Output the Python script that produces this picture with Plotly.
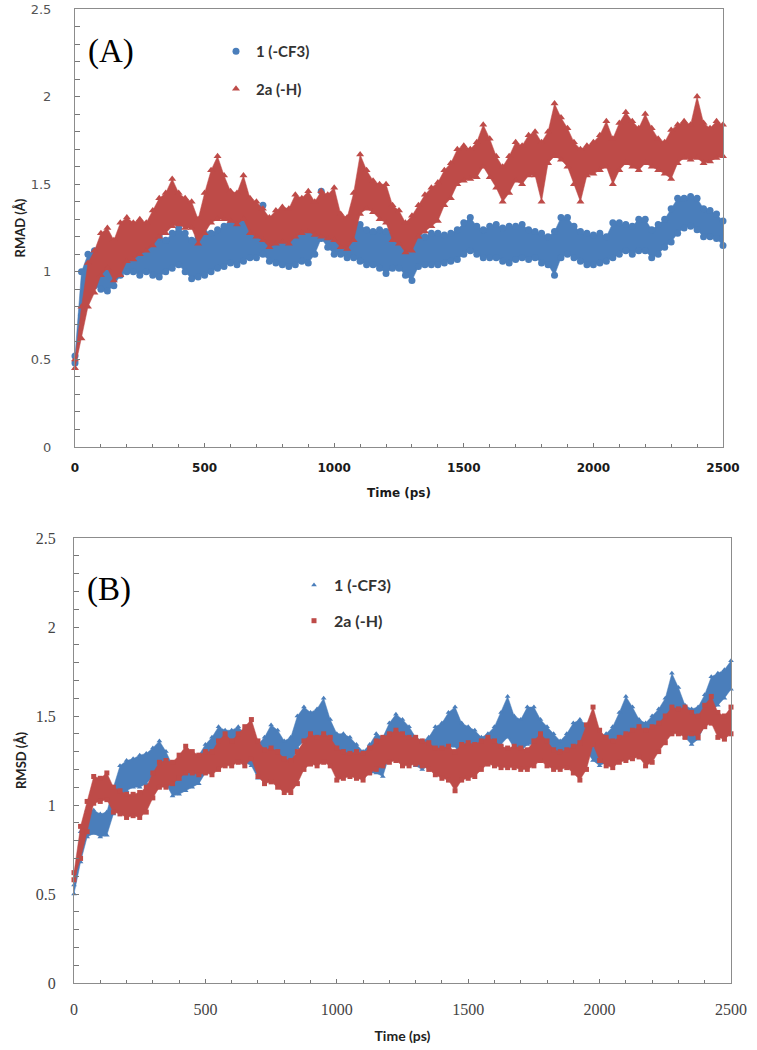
import plotly.graph_objects as go

# ---------------- data (envelope of each noisy trace every 25 ps) -------------
time_ps = list(range(0, 2501, 25))

# Panel A  (RMAD)
a_cf3_hi = [0.52,1.00,1.10,1.12,1.06,1.08,1.08,1.18,1.26,1.20,1.22,1.18,1.23,1.20,1.18,1.22,1.25,1.22,1.18,1.20,
            1.22,1.22,1.24,1.26,1.30,1.28,1.30,1.28,1.32,1.38,1.25,1.24,1.22,1.23,1.24,1.26,1.27,1.34,1.46,1.36,
            1.31,1.30,1.28,1.30,1.27,1.24,1.23,1.24,1.23,1.22,1.21,1.20,1.18,1.21,1.20,1.22,1.22,1.21,1.22,1.24,
            1.28,1.31,1.26,1.24,1.26,1.27,1.25,1.26,1.26,1.27,1.24,1.23,1.22,1.20,1.23,1.31,1.31,1.26,1.23,1.22,
            1.21,1.22,1.20,1.28,1.28,1.27,1.26,1.30,1.30,1.24,1.27,1.30,1.36,1.42,1.42,1.43,1.42,1.36,1.35,1.33,1.29]
a_cf3_lo = [0.48,0.75,0.92,0.92,0.90,0.89,0.92,0.98,1.00,1.00,0.98,1.00,0.98,0.97,1.00,1.02,1.04,1.00,0.96,0.97,
            0.98,1.00,1.02,1.03,1.05,1.04,1.06,1.08,1.08,1.10,1.06,1.05,1.04,1.03,1.04,1.06,1.05,1.10,1.19,1.14,
            1.10,1.10,1.08,1.08,1.06,1.04,1.04,1.02,0.99,1.02,1.02,0.98,0.95,1.03,1.04,1.04,1.04,1.05,1.06,1.07,
            1.10,1.12,1.10,1.08,1.08,1.08,1.06,1.05,1.07,1.08,1.07,1.08,1.05,1.04,0.98,1.08,1.10,1.08,1.06,1.04,
            1.04,1.05,1.06,1.08,1.10,1.12,1.10,1.12,1.12,1.08,1.10,1.14,1.17,1.22,1.25,1.26,1.24,1.20,1.20,1.19,1.15]
a_h_hi = [0.50,0.80,1.05,1.12,1.22,1.25,1.18,1.28,1.31,1.28,1.30,1.28,1.35,1.42,1.45,1.53,1.45,1.42,1.40,1.30,
          1.45,1.58,1.66,1.55,1.46,1.45,1.55,1.42,1.40,1.36,1.31,1.35,1.37,1.36,1.44,1.42,1.46,1.40,1.46,1.44,
          1.48,1.33,1.31,1.45,1.67,1.58,1.52,1.50,1.50,1.38,1.35,1.28,1.32,1.38,1.44,1.48,1.51,1.58,1.62,1.70,
          1.72,1.70,1.74,1.84,1.76,1.66,1.60,1.66,1.74,1.72,1.78,1.80,1.74,1.80,1.96,1.88,1.82,1.74,1.70,1.72,
          1.74,1.78,1.86,1.76,1.85,1.91,1.86,1.82,1.90,1.82,1.76,1.74,1.81,1.84,1.86,1.84,2.00,1.85,1.82,1.86,1.84]
a_h_lo = [0.45,0.62,0.80,0.88,0.98,1.02,0.95,0.98,1.06,1.07,1.10,1.12,1.15,1.20,1.22,1.26,1.27,1.25,1.25,1.16,
          1.22,1.28,1.30,1.30,1.29,1.27,1.30,1.22,1.20,1.18,1.14,1.16,1.17,1.16,1.20,1.22,1.23,1.21,1.20,1.19,
          1.18,1.14,1.13,1.18,1.33,1.36,1.34,1.30,1.28,1.18,1.16,1.11,1.12,1.20,1.23,1.26,1.29,1.38,1.42,1.50,
          1.52,1.53,1.54,1.60,1.54,1.48,1.40,1.45,1.52,1.50,1.55,1.55,1.40,1.62,1.66,1.64,1.60,1.50,1.40,1.55,
          1.56,1.58,1.60,1.50,1.58,1.62,1.60,1.58,1.62,1.60,1.58,1.56,1.53,1.62,1.65,1.64,1.65,1.62,1.63,1.65,1.66]

# Panel B  (RMSD)
b_cf3_hi = [0.55,0.85,0.97,0.97,0.95,0.96,1.10,1.22,1.25,1.26,1.28,1.29,1.32,1.36,1.30,1.22,1.20,1.22,1.24,1.28,
            1.34,1.38,1.44,1.42,1.42,1.44,1.40,1.38,1.34,1.38,1.45,1.42,1.36,1.38,1.50,1.55,1.52,1.54,1.60,1.48,
            1.40,1.40,1.38,1.34,1.30,1.34,1.40,1.38,1.46,1.51,1.48,1.44,1.38,1.36,1.38,1.44,1.46,1.52,1.55,1.46,
            1.44,1.42,1.38,1.40,1.44,1.52,1.61,1.50,1.48,1.55,1.55,1.48,1.44,1.40,1.36,1.40,1.46,1.48,1.45,1.40,
            1.36,1.40,1.44,1.52,1.61,1.55,1.48,1.46,1.50,1.54,1.60,1.74,1.66,1.56,1.54,1.55,1.62,1.72,1.74,1.76,1.81]
b_cf3_lo = [0.50,0.68,0.82,0.84,0.82,0.83,0.95,1.05,1.08,1.10,1.10,1.12,1.16,1.18,1.12,1.05,1.06,1.08,1.10,1.12,
            1.18,1.22,1.25,1.24,1.24,1.26,1.24,1.22,1.15,1.18,1.28,1.28,1.20,1.22,1.32,1.36,1.32,1.34,1.40,1.30,
            1.22,1.22,1.22,1.18,1.16,1.18,1.18,1.16,1.28,1.31,1.29,1.25,1.22,1.20,1.22,1.26,1.27,1.32,1.33,1.25,
            1.24,1.24,1.22,1.24,1.26,1.34,1.38,1.32,1.30,1.34,1.34,1.28,1.26,1.26,1.26,1.28,1.32,1.33,1.30,1.25,
            1.22,1.24,1.27,1.34,1.40,1.36,1.33,1.32,1.32,1.33,1.40,1.55,1.48,1.38,1.34,1.37,1.45,1.53,1.56,1.60,1.65]
b_h_hi = [0.62,0.88,1.02,1.16,1.15,1.18,1.10,1.08,1.06,1.06,1.07,1.10,1.18,1.24,1.25,1.24,1.28,1.33,1.30,1.28,
          1.30,1.30,1.36,1.40,1.36,1.40,1.44,1.48,1.36,1.31,1.32,1.30,1.26,1.25,1.30,1.36,1.40,1.38,1.40,1.38,
          1.32,1.30,1.29,1.30,1.29,1.32,1.36,1.38,1.40,1.42,1.40,1.38,1.38,1.36,1.35,1.32,1.32,1.33,1.30,1.34,
          1.35,1.34,1.36,1.38,1.36,1.33,1.32,1.33,1.32,1.31,1.36,1.40,1.36,1.31,1.30,1.31,1.33,1.35,1.45,1.55,
          1.42,1.38,1.36,1.38,1.40,1.42,1.44,1.42,1.44,1.46,1.50,1.55,1.54,1.55,1.52,1.50,1.56,1.61,1.52,1.50,1.55]
b_h_lo = [0.58,0.70,0.85,1.01,1.02,1.03,0.96,0.95,0.93,0.94,0.93,0.96,1.04,1.10,1.10,1.12,1.15,1.18,1.18,1.17,
          1.18,1.17,1.20,1.22,1.22,1.24,1.22,1.26,1.16,1.12,1.13,1.10,1.07,1.07,1.12,1.20,1.23,1.22,1.24,1.22,
          1.14,1.15,1.16,1.15,1.14,1.18,1.20,1.22,1.24,1.25,1.22,1.22,1.23,1.22,1.20,1.17,1.15,1.14,1.08,1.14,
          1.15,1.16,1.20,1.23,1.22,1.21,1.21,1.21,1.20,1.20,1.22,1.25,1.22,1.20,1.20,1.21,1.18,1.14,1.20,1.34,
          1.25,1.22,1.21,1.24,1.25,1.26,1.27,1.22,1.24,1.30,1.35,1.40,1.40,1.38,1.40,1.38,1.44,1.46,1.38,1.37,1.40]

series_names = ["1 (-CF3)", "2a (-H)"]
x_ticks = [0, 500, 1000, 1500, 2000, 2500]
y_ticks = [0, 0.5, 1, 1.5, 2, 2.5]

BLUE = "#4A7EBB"
RED = "#BE4B48"


def add_series(fig, hi, lo, color, symbol, msize, name, xa, ya, legend):
    # filled band between the lower and upper envelope
    fig.add_trace(go.Scatter(
        x=time_ps + time_ps[::-1], y=hi + lo[::-1], fill="toself", fillcolor=color,
        mode="lines", line=dict(width=0.5, color=color), hoverinfo="skip", showlegend=False,
        xaxis=xa, yaxis=ya))
    # individual markers on the envelope
    xs, ys = [], []
    for t, h, l in zip(time_ps, hi, lo):
        xs += [t, t]
        ys += [h, l]
    fig.add_trace(go.Scatter(
        x=xs, y=ys, mode="markers", name=name, cliponaxis=False,
        marker=dict(symbol=symbol, size=msize, color=color, line=dict(width=0)),
        xaxis=xa, yaxis=ya, legend=legend))


fig = go.Figure()
add_series(fig, a_cf3_hi, a_cf3_lo, BLUE, "circle", 7, series_names[0], "x", "y", "legend")
add_series(fig, a_h_hi, a_h_lo, RED, "triangle-up", 7, series_names[1], "x", "y", "legend")
add_series(fig, b_cf3_hi, b_cf3_lo, BLUE, "triangle-up", 5, series_names[0], "x2", "y2", "legend2")
add_series(fig, b_h_hi, b_h_lo, RED, "square", 5, series_names[1], "x2", "y2", "legend2")

W, H = 757, 1050


def px(x):
    return x / W


def py(y):
    return 1 - y / H


axA = dict(l=75, r=723, t=9, b=447)
axB = dict(l=74, r=731, t=538, b=983)

common_x = dict(range=[0, 2500], tickvals=x_ticks, ticks="inside", ticklen=4, tickcolor="#777",
                showline=True, linecolor="#8c8c8c", linewidth=1, mirror=True, showgrid=False,
                zeroline=False, automargin=False, ticklabeloverflow="allow",
                minor=dict(dtick=100, ticks="inside", ticklen=3, tickcolor="#777"))
common_y = dict(range=[0, 2.5], tickvals=y_ticks, ticktext=["0", "0.5", "1", "1.5", "2", "2.5"],
                ticks="inside", ticklen=5, tickcolor="#777", automargin=False, ticklabeloverflow="allow",
                showline=True, linecolor="#8c8c8c", linewidth=1, mirror=True, showgrid=False,
                zeroline=False, minor=dict(dtick=0.1, ticks="inside", ticklen=5, tickcolor="#777"))

fig.update_layout(
    width=W, height=H, margin=dict(l=0, r=0, t=0, b=0, autoexpand=False),
    paper_bgcolor="white", plot_bgcolor="white",
    xaxis=dict(common_x, domain=[px(axA["l"]), px(axA["r"])], anchor="y",
               tickfont=dict(family="DejaVu Sans", size=12, color="#1a1a1a", weight="bold"),
               ticklabelstandoff=10,
               title=dict(text="Time (ps)", standoff=14,
                          font=dict(family="DejaVu Sans", size=12, color="#1a1a1a", weight="bold"))),
    yaxis=dict(common_y, domain=[py(axA["b"]), py(axA["t"])], anchor="x",
               tickfont=dict(family="DejaVu Sans", size=13, color="#555"),
               ticklabelstandoff=20,
               title=dict(text="RMAD (Å)", standoff=2,
                          font=dict(family="Lato", size=13, color="#222", weight="bold"))),
    xaxis2=dict(common_x, domain=[px(axB["l"]), px(axB["r"])], anchor="y2",
                tickfont=dict(family="Liberation Serif", size=16, color="#444"),
                ticklabelstandoff=12,
                title=dict(text="Time (ps)", standoff=13,
                           font=dict(family="Lato", size=14, color="#222", weight="bold"))),
    yaxis2=dict(common_y, domain=[py(axB["b"]), py(axB["t"])], anchor="x2",
                tickfont=dict(family="Liberation Serif", size=16, color="#444"),
                ticklabelstandoff=14,
                title=dict(text="RMSD (Å)", standoff=6,
                           font=dict(family="Lato", size=13, color="#222", weight="bold"))),
    legend=dict(x=px(216), y=py(35), xanchor="left", yanchor="top", bgcolor="rgba(0,0,0,0)",
                font=dict(family="Lato", size=15, color="#333", weight="bold"),
                itemwidth=30, tracegroupgap=15, traceorder="grouped", itemsizing="trace"),
    legend2=dict(x=px(294), y=py(568), xanchor="left", yanchor="top", bgcolor="rgba(0,0,0,0)",
                 font=dict(family="Lato", size=16, color="#333", weight="bold"),
                 itemwidth=30, tracegroupgap=12, traceorder="grouped", itemsizing="trace"),
    annotations=[
        dict(text="(A)", xref="paper", yref="paper", x=px(86), y=py(51), xanchor="left",
             yanchor="middle", showarrow=False,
             font=dict(family="Liberation Serif", size=33, color="black")),
        dict(text="(B)", xref="paper", yref="paper", x=px(85), y=py(589), xanchor="left",
             yanchor="middle", showarrow=False,
             font=dict(family="Liberation Serif", size=33, color="black")),
    ],
)

# distinct legend groups so the gap between the two entries can be set
for i, tr in enumerate(fig.data):
    tr.legendgroup = f"g{i}"

# remove the browser's default 8 px body margin so the figure sits at the window origin
fig.write_html("out.html", config={"displayModeBar": False},
               post_script="document.body.style.margin='0';document.body.style.overflow='hidden';")
